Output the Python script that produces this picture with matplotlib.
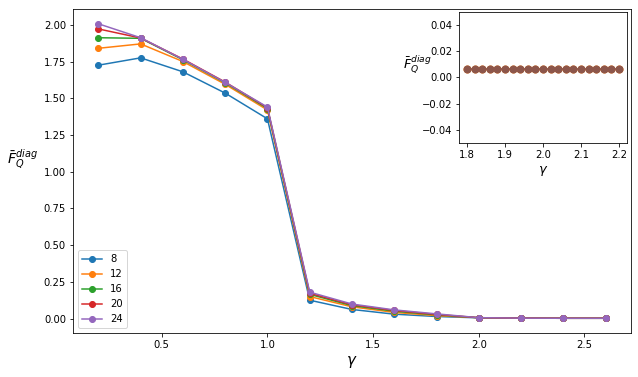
import numpy as np
import matplotlib
matplotlib.use("Agg")
import matplotlib.pyplot as plt

# system sizes and gamma grid
sizes = [8, 12, 16, 20, 24]
gamma = [0.2, 0.4, 0.6, 0.8, 1.0, 1.2, 1.4, 1.6, 1.8, 2.0, 2.2, 2.4, 2.6]

fq_8 = [1.725, 1.775, 1.68, 1.535, 1.36, 0.125, 0.062, 0.030, 0.014, 0.005, 0.003, 0.002, 0.002]
fq_12 = [1.84, 1.87, 1.75, 1.595, 1.42, 0.150, 0.080, 0.042, 0.020, 0.006, 0.003, 0.002, 0.002]
fq_16 = [1.912, 1.908, 1.762, 1.605, 1.43, 0.165, 0.088, 0.050, 0.025, 0.006, 0.003, 0.002, 0.002]
fq_20 = [1.972, 1.91, 1.767, 1.61, 1.435, 0.172, 0.094, 0.055, 0.028, 0.006, 0.003, 0.002, 0.002]
fq_24 = [2.007, 1.912, 1.765, 1.608, 1.44, 0.180, 0.099, 0.059, 0.032, 0.006, 0.003, 0.002, 0.002]
all_fq = [fq_8, fq_12, fq_16, fq_20, fq_24]

# zoomed region
gamma_zoom = [1.80, 1.82, 1.84, 1.86, 1.88, 1.90, 1.92, 1.94, 1.96, 1.98, 2.00,
              2.02, 2.04, 2.06, 2.08, 2.10, 2.12, 2.14, 2.16, 2.18, 2.20]
zoom_low = [0.0062] * 21   # orange layer, just visible under the top one
zoom_top = [0.0066] * 21

fig = plt.figure(figsize=(638 / 72, 377 / 72), dpi=72)
ax = fig.add_axes([0.1144, 0.1167, 0.8746, 0.8593])

for L, fq in zip(sizes, all_fq):
    ax.plot(gamma, fq, marker='o', label=str(L))

ax.set_xlabel(r'$\gamma$', fontsize=15)
ax.set_ylabel(r'$\bar{F}_Q^{diag}$', fontsize=14, rotation=0)
ax.yaxis.set_label_coords(-0.09, 0.5)
ax.legend(loc='lower left')

# inset
axin = fig.add_axes([0.72, 0.6215, 0.262, 0.346])
axin.plot(gamma_zoom, zoom_low, marker='o', color='C1', markersize=7)
axin.plot(gamma_zoom, zoom_top, marker='o', color='C5', markersize=7)
axin.set_ylim(-0.05, 0.05)
axin.set_xlabel(r'$\gamma$', fontsize=13)
axin.set_ylabel(r'$\bar{F}_Q^{diag}$', fontsize=13, rotation=0)
axin.yaxis.set_label_coords(-0.25, 0.52)

fig.savefig("out.png", dpi=72)
